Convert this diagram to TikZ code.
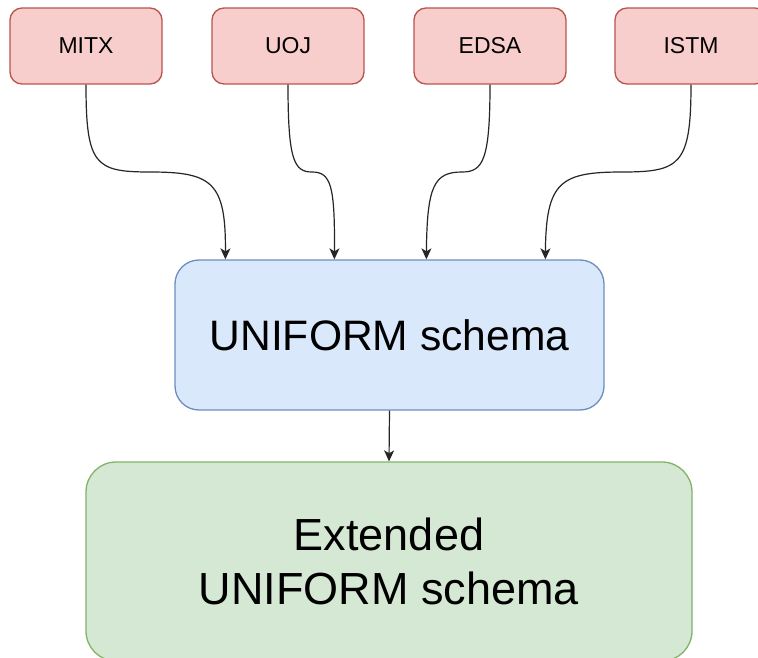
\documentclass[tikz,border=0pt]{standalone}
\usepackage{fontspec}
\setmainfont{Liberation Sans}
\usetikzlibrary{arrows.meta}
\definecolor{srcfill}{HTML}{F8CECC}
\definecolor{srcline}{HTML}{B85450}
\definecolor{unifill}{HTML}{DAE8FC}
\definecolor{uniline}{HTML}{6C8EBF}
\definecolor{extfill}{HTML}{D5E8D4}
\definecolor{extline}{HTML}{82B366}
\begin{document}
\begin{tikzpicture}[x=1pt,y=-1pt,
  source/.style={draw=srcline, fill=srcfill, line width=1.3pt, rounded corners=12pt,
    minimum width=152pt, minimum height=76pt, inner sep=0pt,
    font=\fontsize{23}{27}\selectfont},
  unibox/.style={draw=uniline, fill=unifill, line width=1.3pt, rounded corners=24pt,
    minimum width=429pt, minimum height=150pt, inner sep=0pt,
    font=\fontsize{42.6}{50}\selectfont},
  extbox/.style={draw=extline, fill=extfill, line width=1.3pt, rounded corners=30pt,
    minimum width=606pt, minimum height=199pt, inner sep=0pt, align=center,
    font=\fontsize{45}{54}\selectfont},
  link/.style={draw=black!85, line width=1.2pt,
    -{Stealth[length=11pt,width=10pt,inset=3pt]}}]
\useasboundingbox (0,0) rectangle (758,658);
\clip (0,0) rectangle (758,658);
\fill[white] (0,0) rectangle (758,658);

% source boxes
\node[source] (mitx) at (86,46)  {MITX};
\node[source] (uoj)  at (288,46) {UOJ};
\node[source] (edsa) at (490,46) {EDSA};
\node[source] (istm) at (691,46) {ISTM};

% schema boxes
\node[unibox] (uni) at (389.5,335) {UNIFORM schema};
\node[extbox] (ext) at (389,561.5) {Extended\\UNIFORM schema};

% entry points on the top edge of the UNIFORM box
\coordinate (in1) at ([xshift=51pt]uni.north west);
\coordinate (in2) at ([xshift=160pt]uni.north west);
\coordinate (in3) at ([xshift=252pt]uni.north west);
\coordinate (in4) at ([xshift=371pt]uni.north west);

% curved feeds
\draw[link] (mitx.south) .. controls (86,165) and (95,172) .. (150,172)
  .. controls (212,172) and (226,182) .. (in1);
\draw[link] (uoj.south) .. controls (288,160) and (294,172) .. (312,172)
  .. controls (331,172) and (335,186) .. (in2);
\draw[link] (edsa.south) .. controls (490,160) and (483,172) .. (462,172)
  .. controls (434,172) and (427,186) .. (in3);
\draw[link] (istm.south) .. controls (691,165) and (680,172) .. (622,172)
  .. controls (560,172) and (546,182) .. (in4);

% extension
\draw[link] (uni.south) -- (ext.north);
\end{tikzpicture}
\end{document}
